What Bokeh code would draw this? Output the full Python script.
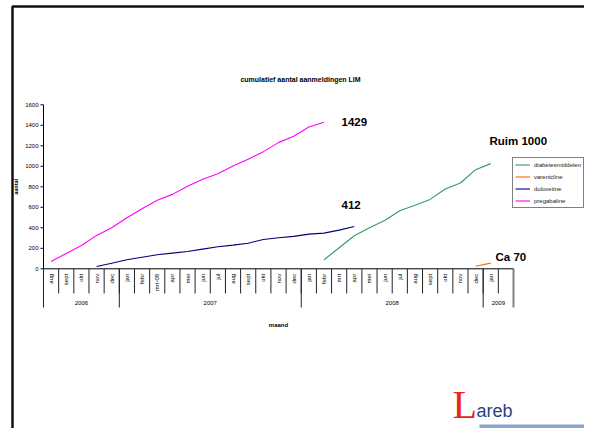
import math
from bokeh.plotting import figure
from bokeh.models import Range1d, Label, Legend, LegendItem
from bokeh.core.properties import value
from bokeh.embed import file_html
from bokeh.resources import INLINE

NaN = float("nan")

# ---------------- data ----------------
months = ["aug", "sept", "okt", "nov", "dec",
          "jan", "febr", "mrt-08", "apr", "mei", "jun", "jul", "aug", "sept", "okt", "nov", "dec",
          "jan", "febr", "mrt", "apr", "mei", "jun", "jul", "aug", "sept", "okt", "nov", "dec",
          "jan", ""]
years = ["2006", "2007", "2008", "2009"]
year_sizes = [5, 12, 12, 2]
y_ticks = [0, 200, 400, 600, 800, 1000, 1200, 1400, 1600]

pregabaline = [71, 150, 228, 326, 400, 498, 586, 668, 726, 805, 873, 928, 1003, 1068,
               1143, 1231, 1293, 1384, 1429] + [NaN] * 12
duloxetine = [NaN] * 3 + [22, 55, 88, 113, 137, 153, 169, 192, 215, 231, 250, 286, 303,
                          316, 338, 348, 377, 412] + [NaN] * 10
diabetesmiddelen = [NaN] * 18 + [88, 205, 322, 400, 472, 567, 619, 677, 778, 837, 967, 1026, NaN]
varenicline = [NaN] * 28 + [25, 55, NaN]

series_names = ["diabetesmiddelen", "varenicline", "duloxetine", "pregabaline"]
series_colors = ["#339966", "#FF6600", "#000080", "#FF00FF"]

annotations = ["1429", "412", "Ruim 1000", "Ca 70"]
title_text = "cumulatief aantal aanmeldingen LIM"

# ---------------- geometry ----------------
W, H = 584, 428
N = len(months)
PX_PER_CAT = (513 - 43) / N
PX_PER_UNIT = (268.3 - 104.3) / 1600
x_start = -0.5 - 43 / PX_PER_CAT
x_end = x_start + W / PX_PER_CAT
y_end = 268.3 / PX_PER_UNIT
y_start = y_end - H / PX_PER_UNIT


def xd(px):
    return x_start + px / PX_PER_CAT


def yd(py):
    return y_end - py / PX_PER_UNIT


FONT = "Liberation Sans"

p = figure(width=W, height=H, output_backend="svg", toolbar_location=None,
           x_range=Range1d(x_start, x_end), y_range=Range1d(y_start, y_end),
           x_axis_type=None, y_axis_type=None, min_border=0)
p.outline_line_color = None
p.background_fill_color = "white"
p.border_fill_color = "white"
for g in p.grid:
    g.visible = False

# slide border
p.line(x=[xd(12), xd(12), xd(600)], y=[yd(450), yd(6), yd(6)],
       line_color="#111111", line_width=2.5)

# series lines
xs = list(range(N))
renderers = []
for name, col, vals in zip(series_names, series_colors,
                           [diabetesmiddelen, varenicline, duloxetine, pregabaline]):
    r = p.line(x=xs, y=vals, line_color=col, line_width=1.1)
    renderers.append(r)

# y axis
left = -0.5
right = N - 0.5
p.segment(x0=[left], y0=[0], x1=[left], y1=[y_ticks[-1]], line_color="black", line_width=1)
p.segment(x0=[left - 3 / PX_PER_CAT] * len(y_ticks), y0=y_ticks,
          x1=[left] * len(y_ticks), y1=y_ticks, line_color="black", line_width=1)
p.text(x=[left] * len(y_ticks), y=y_ticks, text=[str(t) for t in y_ticks],
       x_offset=-5, text_align="right", text_baseline="middle",
       text_font=value(FONT), text_font_size="6px", text_color="black")

# x axis (category table)
p.segment(x0=[left], y0=[0], x1=[right], y1=[0], line_color="black", line_width=1)
bounds = [i - 0.5 for i in range(N + 1)]
p.segment(x0=bounds, y0=[0] * len(bounds), x1=bounds, y1=[yd(293)] * len(bounds),
          line_color="#222222", line_width=1)
gb = [-0.5]
for s in year_sizes:
    gb.append(gb[-1] + s)
p.segment(x0=gb[:-1], y0=[0] * (len(gb) - 1), x1=gb[:-1], y1=[yd(307)] * (len(gb) - 1),
          line_color="#222222", line_width=1)
p.segment(x0=[gb[-1]], y0=[0], x1=[gb[-1]], y1=[yd(307)], line_color="#808080", line_width=2)
p.text(x=xs, y=[0] * N, text=months, angle=math.pi / 2, y_offset=5,
       text_align="right", text_baseline="middle",
       text_font=value(FONT), text_font_size="6px", text_color="black")
centers = [(gb[i] + gb[i + 1]) / 2 for i in range(len(years))]
p.text(x=centers, y=[yd(302.7)] * len(years), text=years,
       text_align="center", text_baseline="middle",
       text_font=value(FONT), text_font_size="6px", text_color="black")

# axis titles and chart title
p.add_layout(Label(x=(left + right) / 2, y=yd(324), text="maand", text_font=FONT,
                   text_font_size="6px", text_font_style="bold", text_color="black",
                   text_align="center", text_baseline="middle"))
p.add_layout(Label(x=xd(15), y=800, text="aantal", text_font=FONT, angle=math.pi / 2,
                   text_font_size="5.5px", text_font_style="bold", text_color="black",
                   text_align="center", text_baseline="middle"))
p.add_layout(Label(x=xd(300), y=yd(78.5), text=title_text, text_font=FONT,
                   text_font_size="7px", text_font_style="bold", text_color="black",
                   text_align="center", text_baseline="middle"))

# annotations
ann_pos = [(341, 121.5), (341, 204), (489, 140), (495, 256)]
for t, (ax, ay) in zip(annotations, ann_pos):
    p.add_layout(Label(x=xd(ax), y=yd(ay), text=t, text_font=FONT,
                       text_font_size="11.5px", text_font_style="bold", text_color="black",
                       text_align="left", text_baseline="middle"))

# legend
legend = Legend(items=[LegendItem(label=n, renderers=[r]) for n, r in zip(series_names, renderers)],
                location=(512, H - 208), label_text_font=FONT, label_text_font_size="6px",
                label_text_color="#222222",
                glyph_width=15, glyph_height=9, label_height=9, spacing=3, padding=2,
                margin=0, label_standoff=4, border_line_color="black", border_line_width=1,
                background_fill_color="white", background_fill_alpha=1.0)
p.add_layout(legend)

# Lareb logo (shifted up to fit the drawable area)
p.quad(left=[xd(479)], right=[xd(600)], top=[yd(424)], bottom=[yd(428)],
       fill_color="#8ea2cc", line_color=None)
p.add_layout(Label(x=xd(476), y=yd(410), text="areb", text_font=FONT,
                   text_font_size="18px", text_color="#2b3f87",
                   text_align="left", text_baseline="middle"))
p.add_layout(Label(x=xd(452), y=yd(404), text="L", text_font="Liberation Serif",
                   text_font_size="40px", text_color="#e8261c",
                   text_align="left", text_baseline="middle"))

open("out.html", "w").write(file_html(p, INLINE))
